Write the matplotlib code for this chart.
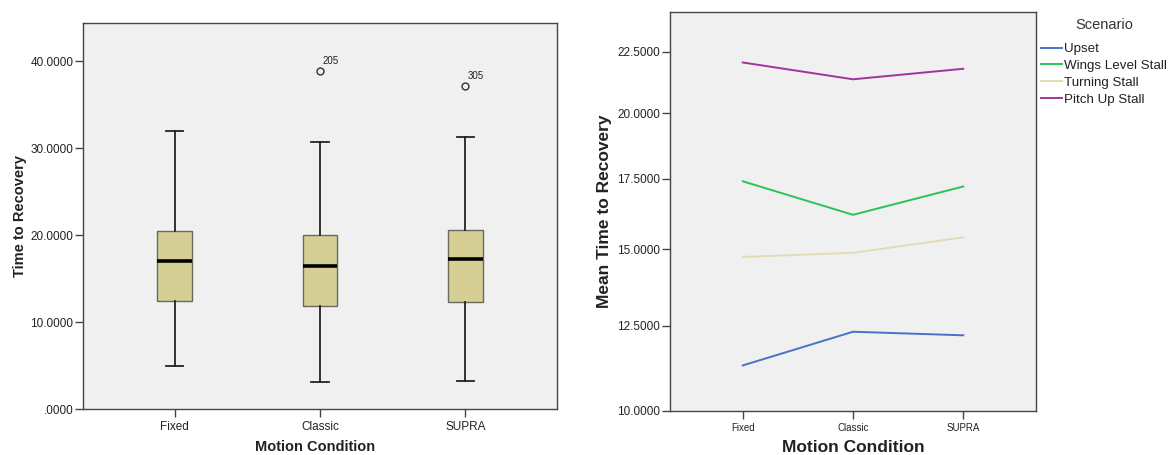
import numpy as np
import matplotlib
matplotlib.use("Agg")
import matplotlib.pyplot as plt
from matplotlib.ticker import FixedLocator, FuncFormatter

plt.rcParams["font.family"] = ["Liberation Sans", "DejaVu Sans"]

# ---- data -------------------------------------------------------------
conditions = ["Fixed", "Classic", "SUPRA"]

# box plot summary of time to recovery per motion condition
whisker_low = [4.99, 3.07, 3.18]
q1 = [12.39, 11.89, 12.35]
median = [17.07, 16.41, 17.30]
q3 = [20.44, 19.98, 20.59]
whisker_high = [31.98, 30.76, 31.26]
outlier_values = [[], [38.93], [37.20]]
outlier_ids = [[], ["205"], ["305"]]

# mean time to recovery by scenario
scenarios = ["Upset", "Wings Level Stall", "Turning Stall", "Pitch Up Stall"]
upset = [11.30, 12.32, 12.21]
wings_level = [17.41, 16.20, 17.22]
turning = [14.74, 14.88, 15.41]
pitch_up = [22.05, 21.36, 21.79]
scenario_colors = ["#4B70C8", "#2BC25C", "#E3DCB3", "#A1339C"]

left_ticks = [0, 10, 20, 30, 40]
right_ticks = [10.0, 12.5, 15.0, 17.5, 20.0, 22.5]

# ---- figure -----------------------------------------------------------
fig = plt.figure(figsize=(11.68, 4.55), dpi=100)
ax1 = fig.add_axes([83 / 1168, 46 / 455, 474 / 1168, 386 / 455])
ax2 = fig.add_axes([670 / 1168, 44.3 / 455, 366 / 1168, 399 / 455])

bg = "#F0F0F0"
frame = "#454545"
txt = "#222222"


def fmt4(v, _pos=None):
    s = f"{v:.4f}"
    return s[1:] if s.startswith("0.") else s


for ax in (ax1, ax2):
    ax.set_facecolor(bg)
    for sp in ax.spines.values():
        sp.set_color(frame)
        sp.set_linewidth(1.0)
    ax.tick_params(axis="both", direction="out", length=6, width=1.0,
                   color=frame, labelcolor=txt)

# ---- left: box plot ---------------------------------------------------
positions = np.arange(1, len(conditions) + 1)
stats = []
for i in range(len(conditions)):
    stats.append(dict(med=median[i], q1=q1[i], q3=q3[i],
                      whislo=whisker_low[i], whishi=whisker_high[i],
                      fliers=outlier_values[i], label=conditions[i]))

ax1.bxp(stats, positions=positions, widths=0.24, patch_artist=True,
        boxprops=dict(facecolor="#D5CF96", edgecolor="#6A6A5A", linewidth=1.0),
        medianprops=dict(color="black", linewidth=2.6),
        whiskerprops=dict(color="#222222", linewidth=1.3),
        capprops=dict(color="#222222", linewidth=1.3),
        capwidths=0.12,
        flierprops=dict(marker="o", markersize=5, markerfacecolor="none",
                        markeredgecolor="#333333", markeredgewidth=1.0))

for pos, vals, ids in zip(positions, outlier_values, outlier_ids):
    for v, lab in zip(vals, ids):
        ax1.annotate(lab, (pos, v), xytext=(1.5, 3.5), textcoords="offset points",
                     fontsize=7, color=txt, ha="left", va="bottom")

ax1.set_xlim(0.37, 3.63)
ax1.set_ylim(0, 44.4)
ax1.yaxis.set_major_locator(FixedLocator(left_ticks))
ax1.yaxis.set_major_formatter(FuncFormatter(fmt4))
ax1.set_xticks(positions)
ax1.set_xticklabels(conditions)
ax1.tick_params(axis="y", labelsize=8.5, pad=1)
ax1.tick_params(axis="x", labelsize=8.5, pad=3)
ax1.set_ylabel("Time to Recovery", fontsize=10.5, fontweight="bold", color=txt)
ax1.set_xlabel("Motion Condition", fontsize=10.5, fontweight="bold", color=txt)
ax1.yaxis.set_label_coords(-0.132, 0.5)
ax1.xaxis.set_label_coords(0.49, -0.098)
ax1.yaxis.label.set_va("center")
ax1.xaxis.label.set_va("center")

# ---- right: mean profiles --------------------------------------------
ax2.set_yscale("function", functions=(np.sqrt, np.square))
series = [upset, wings_level, turning, pitch_up]
for name, vals, col in zip(scenarios, series, scenario_colors):
    ax2.plot(positions, vals, color=col, linewidth=1.4, label=name)

ax2.set_xlim(0.34, 3.66)
ax2.set_ylim(10, 24.2)
ax2.yaxis.set_major_locator(FixedLocator(right_ticks))
ax2.yaxis.set_minor_locator(FixedLocator([]))
ax2.yaxis.set_major_formatter(FuncFormatter(fmt4))
ax2.set_xticks(positions)
ax2.set_xticklabels(conditions)
ax2.tick_params(axis="y", labelsize=8.5, pad=1)
ax2.tick_params(axis="x", labelsize=7, pad=3)
ax2.set_ylabel("Mean Time to Recovery", fontsize=12.5, fontweight="bold", color=txt)
ax2.set_xlabel("Motion Condition", fontsize=12.5, fontweight="bold", color=txt)
ax2.yaxis.set_label_coords(-0.178, 0.5)
ax2.xaxis.set_label_coords(0.5, -0.091)
ax2.yaxis.label.set_va("center")
ax2.xaxis.label.set_va("center")

# legend entries, with the heading set a little apart above them
leg = ax2.legend(loc="upper left",
                 bbox_to_anchor=(1041 / 1168, 1 - 43 / 455),
                 bbox_transform=fig.transFigure, frameon=False,
                 fontsize=9.6, handlelength=1.55,
                 handletextpad=0.2, labelspacing=0.33, borderpad=0,
                 borderaxespad=0)
for t in leg.get_texts():
    t.set_color(txt)
fig.text(1104 / 1168, 1 - 25 / 455, "Scenario", fontsize=10.5,
         color="#333333", ha="center", va="center")

fig.savefig("out.png", dpi=100, facecolor="white")
